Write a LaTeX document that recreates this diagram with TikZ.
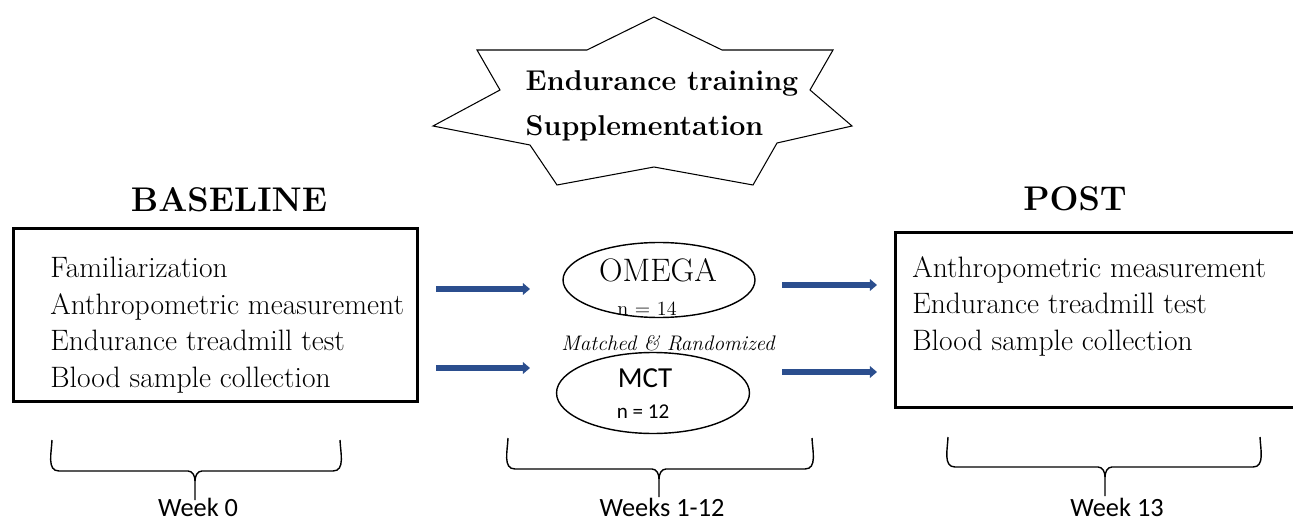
\documentclass[tikz,border=0pt]{standalone}
\usepackage{fontspec}
\newfontfamily\calibri{Carlito}
\usetikzlibrary{arrows.meta,shapes.geometric}
\definecolor{arrowblue}{HTML}{2B4E8E}

\begin{document}
\begin{tikzpicture}[x=0.02cm, y=-0.02cm,
  stagebox/.style={draw, rectangle, line width=1.7pt, inner sep=0pt},
  group/.style={draw, ellipse, line width=0.8pt, inner sep=0pt},
  listtext/.style={align=left, inner sep=0pt, font=\fontsize{16.8}{20.8}\selectfont},
  heading/.style={inner sep=0pt, font=\bfseries\fontsize{19.5}{22}\selectfont},
  weeklabel/.style={inner sep=0pt, font=\calibri\fontsize{15}{17}\selectfont},
  flow/.style={line width=3.3pt, arrowblue, -{Triangle[length=4pt,width=6.5pt]}},
  wbrace/.style={line width=0.8pt}]
\useasboundingbox (0,0) rectangle (1293,523);

% Star
\draw[line width=0.6pt] (654,17) -- (722,50) -- (833,50) -- (810,90) -- (852,126)
  -- (777,143) -- (753,185) -- (654,167) -- (557,185) -- (530,145) -- (433,126)
  -- (500,90) -- (477,50) -- (587,50) -- cycle;
\node[align=left, inner sep=0pt, font=\bfseries\fontsize{16.3}{25.6}\selectfont] (train) at (662,106) {Endurance training\\Supplementation};

% Etapas
\node[heading] (basehead) at (229,200) {BASELINE};
\node[heading] (posthead) at (1075,199) {POST};
\node[stagebox, minimum width=8.1cm, minimum height=3.48cm] (base) at (215.5,315) {};
\node[stagebox, minimum width=8.4cm, minimum height=3.52cm] (post) at (1105,320) {};
\node[listtext, anchor=west] (baselist) at (50,325) {Familiarization\\Anthropometric measurement\\Endurance treadmill test\\Blood sample collection};
\node[listtext, anchor=west] (postlist) at (912,306) {Anthropometric measurement\\Endurance treadmill test\\Blood sample collection};

% Grupos
\node[group, minimum width=3.84cm, minimum height=1.5cm] (omega) at (659,280) {};
\node[group, minimum width=3.86cm, minimum height=1.62cm] (mct) at (653,393) {};
\node[inner sep=0pt, font=\fontsize{18.5}{20}\selectfont] (omeganame) at (658,270) {OMEGA};
\node[inner sep=0pt, font=\fontsize{11.5}{13}\selectfont] (omegan) at (647,309) {n = 14};
\node[inner sep=0pt, font=\calibri\fontsize{16.5}{18}\selectfont] (mctname) at (645,378) {MCT};
\node[inner sep=0pt, font=\calibri\fontsize{12}{14}\selectfont] (mctn) at (643,412) {n = 12};
\node[inner sep=0pt, font=\itshape\fontsize{12}{14}\selectfont] (match) at (668,343) {Matched \& Randomized};

% Setas
\coordinate (in1) at (436,289);  \coordinate (in1e) at (530,289);
\coordinate (in2) at (436,368);  \coordinate (in2e) at (530,368);
\coordinate (out1) at (782,285); \coordinate (out1e) at (877,285);
\coordinate (out2) at (782,372); \coordinate (out2e) at (877,372);
\draw[flow] (in1) -- (in1e);
\draw[flow] (in2) -- (in2e);
\draw[flow] (out1) -- (out1e);
\draw[flow] (out2) -- (out2e);

% Chaves
\draw[wbrace] (52,440) to[out=-92,in=180] (59,471) -- (188,471) to[out=0,in=90] (195,481) -- (195,500);
\draw[wbrace] (340,440) to[out=-88,in=0] (333,471) -- (202,471) to[out=180,in=90] (195,481);
\draw[wbrace] (508,438) to[out=-92,in=180] (515,469) -- (652,469) to[out=0,in=90] (659,479) -- (659,497);
\draw[wbrace] (812,438) to[out=-88,in=0] (805,469) -- (666,469) to[out=180,in=90] (659,479);
\draw[wbrace] (948,437) to[out=-92,in=180] (955,467) -- (1098,467) to[out=0,in=90] (1105,477) -- (1105,496);
\draw[wbrace] (1260,437) to[out=-88,in=0] (1253,467) -- (1112,467) to[out=180,in=90] (1105,477);
\node[weeklabel] (wk0) at (198,507) {Week 0};
\node[weeklabel] (wk1) at (662,507) {Weeks 1-12};
\node[weeklabel] (wk13) at (1117,507) {Week 13};
\end{tikzpicture}
\end{document}
